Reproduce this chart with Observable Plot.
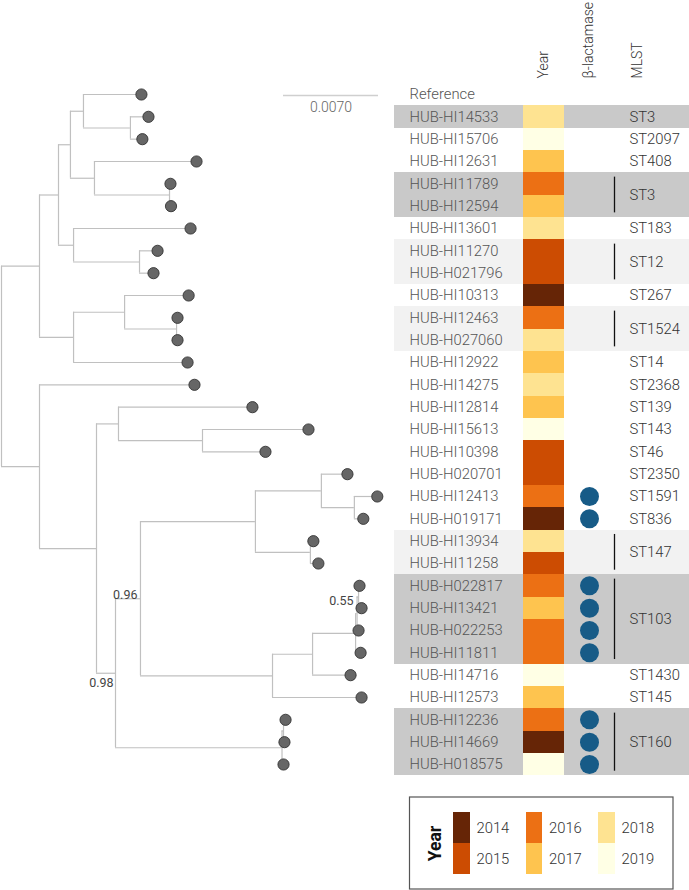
<!DOCTYPE html>
<html><head><meta charset="utf-8">
<script src="https://cdn.jsdelivr.net/npm/d3@7"></script>
<script src="https://cdn.jsdelivr.net/npm/@observablehq/plot@0.6"></script>
<style>
html,body{margin:0;padding:0;background:#fff;}
#wrap{position:relative;width:689px;height:890px;overflow:hidden;}
#wrap > svg{position:absolute;left:0;top:0;}
</style></head><body><div id="wrap"></div>
<script>
// ---------------- DATA ----------------
// phylogeny (branch lengths in substitutions/site, internal labels = support)
const newick = [
 "(((((Reference:0.00427,(HUB-HI14533:0.00133,HUB-HI15706:0.00088):0.00346):0.00096,",
 "(HUB-HI12631:0.00752,(HUB-HI11789:0.00007,HUB-HI12594:0.00011):0.00553):0.00177):0.00088,",
 "(HUB-HI13601:0.00862,(HUB-HI11270:0.00133,HUB-H021796:0.00103):0.00486):0.00111):0.00140,",
 "((HUB-HI10313:0.00472,(HUB-HI12463:0.00007,HUB-H027060:0.00007):0.00383):0.00376,HUB-HI12922:0.00840):0.00251):0.00280,",
 "(HUB-HI14275:0.01142,((HUB-HI12814:0.00987,(HUB-HI15613:0.00781,HUB-HI10398:0.00464):0.00619):0.00162,",
 "((((HUB-H020701:0.00192,(HUB-HI12413:0.00169,HUB-H019171:0.00066):0.00243):0.00486,(HUB-HI13934:0.00022,HUB-HI11258:0.00059):0.00405):0.00847,",
 "(((((HUB-H022817:0.00007,HUB-HI13421:0.00022)0.55:0.00011,HUB-H022253:0.00011):0.00011,HUB-HI11811:0.00037):0.00317,HUB-HI14716:0.00280):0.00295,HUB-HI12573:0.00656):0.00973)0.96:0.00184,",
 "((HUB-HI12236:0.00015,HUB-HI14669:0.00007):0.00011,HUB-H018575:0.00011):0.01227)0.98:0.00140):0.00420):0.00280);"
].join("");

const isolates = ["HUB-HI14533","HUB-HI15706","HUB-HI12631","HUB-HI11789","HUB-HI12594","HUB-HI13601","HUB-HI11270","HUB-H021796","HUB-HI10313","HUB-HI12463","HUB-H027060","HUB-HI12922","HUB-HI14275","HUB-HI12814","HUB-HI15613","HUB-HI10398","HUB-H020701","HUB-HI12413","HUB-H019171","HUB-HI13934","HUB-HI11258","HUB-H022817","HUB-HI13421","HUB-H022253","HUB-HI11811","HUB-HI14716","HUB-HI12573","HUB-HI12236","HUB-HI14669","HUB-H018575"];
const years = [2018,2019,2017,2016,2017,2018,2015,2015,2014,2016,2018,2017,2018,2017,2019,2015,2015,2016,2014,2018,2015,2016,2017,2016,2016,2019,2017,2016,2014,2019];
const blactamase = [false,false,false,false,false,false,false,false,false,false,false,false,false,false,false,false,false,true,true,false,false,true,true,true,true,false,false,true,true,true];
const mlst = ["ST3","ST2097","ST408","ST3","ST3","ST183","ST12","ST12","ST267","ST1524","ST1524","ST14","ST2368","ST139","ST143","ST46","ST2350","ST1591","ST836","ST147","ST147","ST103","ST103","ST103","ST103","ST1430","ST145","ST160","ST160","ST160"];
const mlstHighlight = [2,0,0,2,2,0,1,1,0,1,1,0,0,0,0,0,0,0,0,1,1,2,2,2,2,0,0,2,2,2];
const legendYears = [2014,2015,2016,2017,2018,2019];
const yearColors = ["#662506","#cc4c02","#ec7014","#fec44f","#fee391","#ffffe5"];
const columnHeaders = ["Year","β-lactamase","MLST"];
const scaleBarLength = 0.007;

// ---------------- TREE LAYOUT ----------------
function parseNewick(s){
  let i=0;
  function node(){
    const n={children:[],name:"",len:0};
    if(s[i]==="("){
      i++;
      n.children.push(node());
      while(s[i]===","){i++; n.children.push(node());}
      i++;
    }
    let name="";
    while(i<s.length && !":,();".includes(s[i])) name+=s[i++];
    n.name=name.trim();
    if(s[i]===":"){i++; let num=""; while(i<s.length && !",();".includes(s[i])) num+=s[i++]; n.len=+num;}
    return n;
  }
  return node();
}
const root = parseNewick(newick);
const tips=[], internals=[], hEdges=[], vEdges=[];
(function layout(n, px){
  n.x = px + n.len;
  if(n.children.length===0){ n.y = tips.length; tips.push(n); }
  else{
    n.children.forEach(c=>layout(c, n.x));
    n.y = d3.mean(n.children, c=>c.y);
    internals.push(n);
    vEdges.push({x:n.x, y1:d3.min(n.children,c=>c.y), y2:d3.max(n.children,c=>c.y)});
    n.children.forEach(c=>hEdges.push({x1:n.x, x2:c.x, y:c.y}));
  }
})(root, 0);
const rowOf = new Map(tips.map(t=>[t.name,t.y]));
const supports = internals.filter(n=>n.name!=="");

const pxPerUnit = 95/0.007;
const FONT = "Roboto, 'Liberation Sans', Arial, sans-serif";
const yScale = {domain:[0,30], range:[94,764]};
const colorScale = {type:"ordinal", domain:legendYears, range:yearColors};
const svgStyle = {background:"transparent", overflow:"visible", fontFamily:FONT};

// label offsets for support values
const supOff = {"0.96":{dx:-3,dy:-4}, "0.55":{dx:-5,dy:3.5}, "0.98":{dx:-2,dy:10}};
const sbX = 0.02078;

const tree = Plot.plot({
  width:689, height:890, margin:0, style:svgStyle,
  x:{type:"linear", domain:[0,0.05], range:[1, 1+0.05*pxPerUnit], axis:null},
  y:{...yScale, axis:null},
  marks:[
    Plot.ruleY(hEdges,{x1:"x1",x2:"x2",y:"y",stroke:"#c0c0c0",strokeWidth:1.2}),
    Plot.ruleX(vEdges,{x:"x",y1:"y1",y2:"y2",stroke:"#c0c0c0",strokeWidth:1.2}),
    Plot.dot(tips,{x:"x",y:"y",r:5.6,fill:"#666666",stroke:"#333",strokeWidth:0.9}),
    ...supports.map(n=>Plot.text([n],{x:"x",y:"y",text:"name",textAnchor:"end",dx:supOff[n.name]?.dx ?? -3,dy:supOff[n.name]?.dy ?? -5,fontSize:12.5,fill:"#444"})),
    Plot.ruleY([0],{x1:sbX,x2:sbX+scaleBarLength,y:0,dy:1,stroke:"#cfcfcf",strokeWidth:1.3}),
    Plot.text([scaleBarLength.toFixed(4)],{x:sbX+scaleBarLength/2,y:0,dy:13,text:d=>d,fontSize:14,fill:"#666",fontWeight:300})
  ]
});

// ---------------- TABLE ----------------
const rows = isolates.map((name,i)=>({name, row:rowOf.get(name), year:years[i], bl:blactamase[i], st:mlst[i], hl:mlstHighlight[i]}));
const groups=[];
rows.forEach(r=>{
  const g=groups[groups.length-1];
  if(g && g.st===r.st && g.last===r.row-1){ g.last=r.row; }
  else groups.push({st:r.st, first:r.row, last:r.row});
});
groups.forEach(g=>g.mid=(g.first+g.last)/2);
const multi = groups.filter(g=>g.last>g.first);

const X = {bandL:394, bandR:689, label:409, yearL:523, yearR:564, bl:589, bar:614, st:629};
const headerX = [543.5, 588.5, 637];

const table = Plot.plot({
  width:689, height:890, margin:0, style:svgStyle,
  x:{type:"linear", domain:[0,689], range:[0,689], axis:null},
  y:{...yScale, axis:null},
  color:colorScale,
  marks:[
    Plot.rect(rows.filter(r=>r.hl===2),{x1:X.bandL,x2:X.bandR,y1:r=>r.row-0.5,y2:r=>r.row+0.5,fill:"#c9c9c9",shapeRendering:"crispEdges"}),
    Plot.rect(rows.filter(r=>r.hl===1),{x1:X.bandL,x2:X.bandR,y1:r=>r.row-0.5,y2:r=>r.row+0.5,fill:"#f2f2f2",shapeRendering:"crispEdges"}),
    Plot.rect(rows,{x1:X.yearL,x2:X.yearR,y1:r=>r.row-0.5,y2:r=>r.row+0.5,fill:"year",shapeRendering:"crispEdges"}),
    Plot.dot(rows.filter(r=>r.bl),{x:X.bl,y:"row",r:9.5,fill:"#175b87"}),
    Plot.ruleX(multi,{x:X.bar,y1:g=>g.first-0.3,y2:g=>g.last+0.3,stroke:"#111",strokeWidth:1.3}),
    Plot.text(groups,{x:X.st,y:"mid",text:"st",textAnchor:"start",fontSize:14.8,fill:"#333",fontWeight:300}),
    Plot.text(tips,{x:X.label,y:"y",text:"name",textAnchor:"start",fontSize:14.8,fill:"#555",fontWeight:300}),
    Plot.text(columnHeaders,{x:(d,i)=>headerX[i],y:-0.72,text:d=>d,rotate:-90,textAnchor:"start",fontSize:14,fill:"#333",fontWeight:300})
  ]
});

// ---------------- LEGEND ----------------
const L = {boxL:409.5, boxR:673, boxT:797, boxB:889, titleX:435, titleY:843, swX:453, swW:16.5, colStep:72.5, swY:812, swH:31, labX:476};
const legendItems = legendYears.map((yr,i)=>({yr, col:Math.floor(i/2), r:i%2}));
const legend = Plot.plot({
  width:689, height:890, margin:0, style:svgStyle,
  x:{type:"linear", domain:[0,689], range:[0,689], axis:null},
  y:{type:"linear", domain:[0,890], range:[0,890], axis:null},
  color:colorScale,
  marks:[
    Plot.rect([0],{x1:L.boxL,x2:L.boxR,y1:L.boxT,y2:L.boxB,fill:"white",stroke:"#555",strokeWidth:1.2}),
    Plot.text(["Year"],{x:L.titleX,y:L.titleY,text:d=>d,rotate:-90,fontSize:17.5,fontWeight:"bold",fill:"#111"}),
    Plot.rect(legendItems,{x1:d=>L.swX+d.col*L.colStep,x2:d=>L.swX+d.col*L.colStep+L.swW,y1:d=>L.swY+d.r*L.swH,y2:d=>L.swY+(d.r+1)*L.swH,fill:"yr",shapeRendering:"crispEdges"}),
    Plot.text(legendItems,{x:d=>L.labX+d.col*L.colStep,y:d=>L.swY+(d.r+0.5)*L.swH,text:d=>String(d.yr),textAnchor:"start",fontSize:14.8,fill:"#333",fontWeight:300})
  ]
});

const wrap=document.getElementById("wrap");
wrap.appendChild(tree); wrap.appendChild(table); wrap.appendChild(legend);
</script></body></html>
